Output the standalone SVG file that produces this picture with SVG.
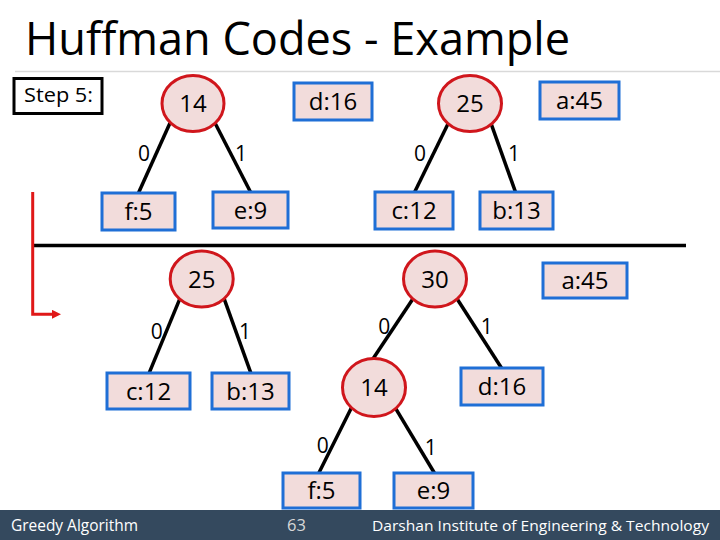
<svg xmlns="http://www.w3.org/2000/svg" width="720" height="540" viewBox="0 0 720 540">
  <defs>
    <style>
      .t { font-family: "Open Sans", "Liberation Sans", sans-serif; fill: #000; }
      .nl { font-size: 24px; text-anchor: middle; }
      .el { font-size: 21px; text-anchor: middle; }
      .circ { fill: #f2dcdb; stroke: #d0161c; stroke-width: 3; }
      .box { fill: #f2dcdb; stroke: #1f6fd6; stroke-width: 3; }
      .edge { stroke: #000; stroke-width: 3.5; fill: none; }
      .foot { font-family: "Open Sans", "Liberation Sans", sans-serif; font-size: 16.5px; fill: #ffffff; }
    </style>
    <marker id="redhead" viewBox="0 0 10 10" refX="0" refY="5" markerWidth="3" markerHeight="3" orient="auto" markerUnits="strokeWidth">
      <path d="M0,0 L10,5 L0,10 z" fill="#e01818"/>
    </marker>
  </defs>
  <rect x="0" y="0" width="720" height="540" fill="#ffffff"/>

  <!-- Title -->
  <text class="t" x="25" y="55" font-size="46" textLength="545" lengthAdjust="spacingAndGlyphs">Huffman Codes - Example</text>
  <line x1="15" y1="71.5" x2="720" y2="71.5" stroke="#d9d9d9" stroke-width="1.5"/>

  <!-- Step label -->
  <g id="step">
    <rect x="14" y="78.5" width="88" height="35" fill="#ffffff" stroke="#000" stroke-width="3"/>
    <text class="t" x="24" y="102" font-size="20" textLength="69" lengthAdjust="spacingAndGlyphs">Step 5:</text>
  </g>

  <!-- separator and red arrow -->
  <line x1="34" y1="245.5" x2="686" y2="245.5" stroke="#000" stroke-width="3.5"/>
  <path d="M32.7,192 V314.3 H52" stroke="#e01818" stroke-width="3" fill="none" marker-end="url(#redhead)"/>

  <!-- Connectors -->
  <g id="connectors">
    <line class="edge" x1="170" y1="123" x2="138" y2="194"/>
    <line class="edge" x1="215" y1="123" x2="251" y2="193"/>
    <line class="edge" x1="448.3" y1="123.3" x2="414.3" y2="192.7"/>
    <line class="edge" x1="491" y1="123.3" x2="515.7" y2="192.7"/>

    <line class="edge" x1="180" y1="298.3" x2="149.3" y2="372.7"/>
    <line class="edge" x1="224" y1="298.3" x2="250.7" y2="372.7"/>
    <line class="edge" x1="413.3" y1="298.3" x2="372.7" y2="359.3"/>
    <line class="edge" x1="456.7" y1="298.3" x2="502.3" y2="369.3"/>
    <line class="edge" x1="351.7" y1="407.3" x2="318.3" y2="474"/>
    <line class="edge" x1="395" y1="407.3" x2="435" y2="474"/>

    <text class="t el" x="144" y="161">0</text>
    <text class="t el" x="241" y="161">1</text>
    <text class="t el" x="420" y="161">0</text>
    <text class="t el" x="514" y="161">1</text>
    <text class="t el" x="156.7" y="339">0</text>
    <text class="t el" x="245" y="339">1</text>
    <text class="t el" x="384.3" y="334">0</text>
    <text class="t el" x="486.7" y="334">1</text>
    <text class="t el" x="322.7" y="453">0</text>
    <text class="t el" x="430.7" y="454.7">1</text>
  </g>

  <!-- Top nodes -->
  <g id="n14a"><ellipse class="circ" cx="193" cy="103.5" rx="31" ry="28"/><text class="t nl" x="193" y="112">14</text></g>
  <g id="d16a"><rect class="box" x="294" y="83" width="78" height="37"/><text class="t nl" x="333" y="110">d:16</text></g>
  <g id="n25a"><ellipse class="circ" cx="470" cy="103.5" rx="31.5" ry="28"/><text class="t nl" x="470" y="112">25</text></g>
  <g id="a45a"><rect class="box" x="540" y="82" width="79" height="37"/><text class="t nl" x="579.5" y="109">a:45</text></g>
  <g id="f5a"><rect class="box" x="102" y="193" width="73" height="37"/><text class="t nl" x="138.5" y="220">f:5</text></g>
  <g id="e9a"><rect class="box" x="213" y="192" width="75" height="36"/><text class="t nl" x="250.5" y="218.5">e:9</text></g>
  <g id="c12a"><rect class="box" x="375" y="192" width="78" height="37"/><text class="t nl" x="414" y="219">c:12</text></g>
  <g id="b13a"><rect class="box" x="480" y="192" width="73" height="37"/><text class="t nl" x="516.5" y="219">b:13</text></g>

  <!-- Bottom nodes -->
  <g id="n25b"><ellipse class="circ" cx="201.7" cy="279" rx="31.5" ry="28"/><text class="t nl" x="201.7" y="287.5">25</text></g>
  <g id="n30"><ellipse class="circ" cx="435" cy="279" rx="31.5" ry="28"/><text class="t nl" x="435" y="287.5">30</text></g>
  <g id="a45b"><rect class="box" x="543" y="263" width="84" height="35"/><text class="t nl" x="585" y="289">a:45</text></g>
  <g id="c12b"><rect class="box" x="107" y="373" width="83" height="36"/><text class="t nl" x="148.5" y="399.5">c:12</text></g>
  <g id="b13b"><rect class="box" x="212" y="373" width="77" height="36"/><text class="t nl" x="250.5" y="399.5">b:13</text></g>
  <g id="n14b"><ellipse class="circ" cx="374" cy="387.5" rx="31.5" ry="29"/><text class="t nl" x="374" y="396">14</text></g>
  <g id="d16b"><rect class="box" x="461" y="368" width="82" height="37"/><text class="t nl" x="502" y="395">d:16</text></g>
  <g id="f5b"><rect class="box" x="283" y="473" width="77" height="35"/><text class="t nl" x="321.5" y="499">f:5</text></g>
  <g id="e9b"><rect class="box" x="394" y="473" width="79" height="35"/><text class="t nl" x="433.5" y="499">e:9</text></g>

  <!-- Footer -->
  <rect x="0" y="510" width="720" height="30" fill="#34495e"/>
  <text class="foot" x="11" y="531" textLength="127" lengthAdjust="spacingAndGlyphs">Greedy Algorithm</text>
  <text class="foot" x="287" y="531" style="fill:#d8d8d8">63</text>
  <text class="foot" x="372" y="531" style="font-size:15px" textLength="337" lengthAdjust="spacingAndGlyphs">Darshan Institute of Engineering &amp; Technology</text>
</svg>
